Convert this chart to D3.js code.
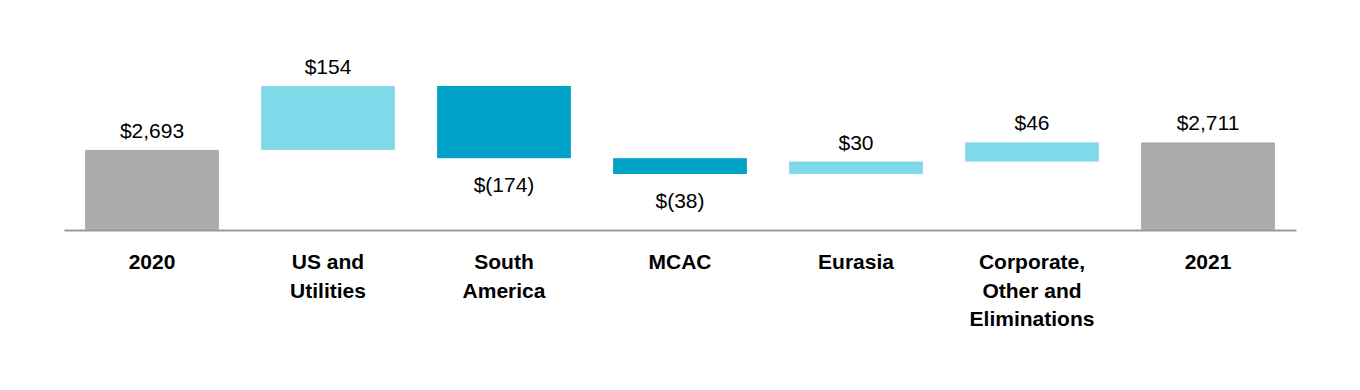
<!DOCTYPE html>
<html>
<head>
<meta charset="utf-8">
<title>waterfall</title>
<script src="https://d3js.org/d3.v7.min.js"></script>
<style>
  body { margin: 0; background: #fff; }
  text { font-family: "Liberation Sans", Arial, sans-serif; fill: #000; }
</style>
</head>
<body>
<script>
// categories and values (millions)
var categories = ["2020", "US and\nUtilities", "South\nAmerica", "MCAC", "Eurasia", "Corporate,\nOther and\nEliminations", "2021"];
var values = [2693, 154, -174, -38, 30, 46, 2711];
var kinds = ["total", "delta", "delta", "delta", "delta", "delta", "total"];
var valueLabels = ["$2,693", "$154", "$(174)", "$(38)", "$30", "$46", "$2,711"];

var width = 1360, height = 390;
var svg = d3.select("body").append("svg")
  .attr("width", width).attr("height", height);

// build running steps
var steps = [];
var run = 0;
values.forEach(function(v, i) {
  if (kinds[i] == "total") {
    steps.push({cat: categories[i], start: null, end: v, kind: "total", label: valueLabels[i]});
    run = v;
  } else {
    steps.push({cat: categories[i], start: run, end: run + v, kind: v >= 0 ? "up" : "down", label: valueLabels[i]});
    run += v;
  }
});

var x = d3.scaleBand().domain(categories).range([64, 1296]).paddingInner(0.24).paddingOuter(0.12);
var y = d3.scaleLinear().domain([2500, 3000]).range([230, 22.5]);
var colors = {total: "#ababab", up: "#7fd9e8", down: "#00a3c7"};

var bars = svg.append("g");
bars.selectAll("rect").data(steps).enter().append("rect")
  .attr("x", function(d) { return x(d.cat); })
  .attr("width", x.bandwidth())
  .attr("y", function(d) { return d.kind == "total" ? y(d.end) : y(Math.max(d.start, d.end)); })
  .attr("height", function(d) {
    if (d.kind == "total") return y(2500) - y(d.end);
    return Math.abs(y(d.start) - y(d.end));
  })
  .attr("fill", function(d) { return colors[d.kind]; });

// value labels
svg.append("g").selectAll("text").data(steps).enter().append("text")
  .attr("x", function(d) { return x(d.cat) + x.bandwidth() / 2; })
  .attr("y", function(d) {
    if (d.kind == "down") return y(d.end) + 34;
    return y(d.end) - 12;
  })
  .attr("text-anchor", "middle")
  .style("font-size", "21px")
  .text(function(d) { return d.label; });

// axis line with category labels
var xAxis = d3.axisBottom(x).tickSize(0).tickFormat("");
var axisG = svg.append("g").attr("transform", "translate(0," + y(2500) + ")").call(xAxis);
axisG.select(".domain").attr("stroke", "#9a9a9a").attr("stroke-width", 2);

var catG = svg.append("g");
categories.forEach(function(c) {
  var t = catG.append("text")
    .attr("x", x(c) + x.bandwidth() / 2)
    .attr("y", 269)
    .attr("text-anchor", "middle")
    .style("font-size", "21px")
    .style("font-weight", "bold");
  c.split("\n").forEach(function(line, j) {
    t.append("tspan").attr("x", x(c) + x.bandwidth() / 2).attr("dy", j == 0 ? 0 : 28.5).text(line);
  });
});
</script>
</body>
</html>
